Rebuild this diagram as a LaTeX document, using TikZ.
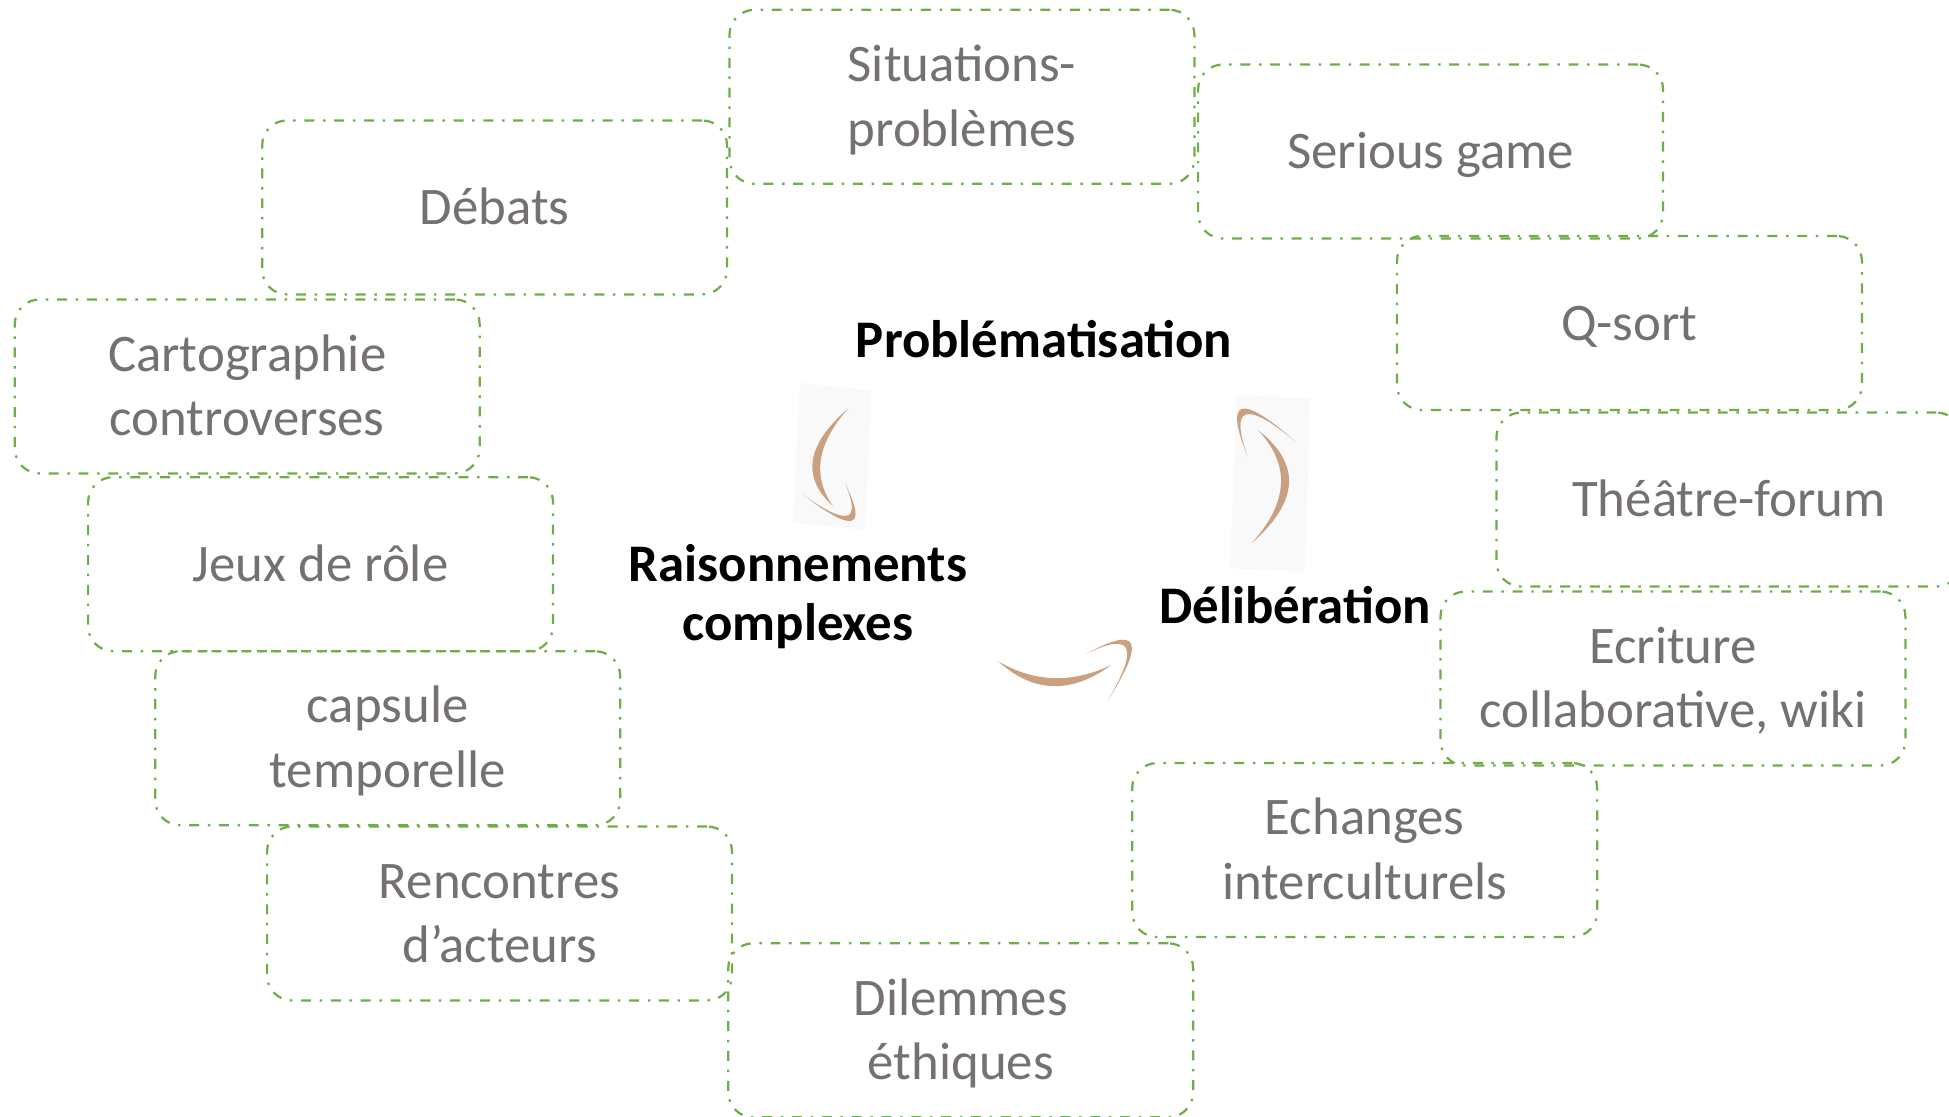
\documentclass[tikz,border=0pt]{standalone}
\usepackage{fontspec}
\setmainfont{Carlito}
\usetikzlibrary{calc}
\definecolor{boxgreen}{HTML}{70AD47}
\definecolor{txtgray}{HTML}{767171}
\definecolor{swoosh}{RGB}{201,161,128}
\definecolor{faintbg}{HTML}{F9F9F9}
% crescent: #1 start, #2 outer mid point, #3 end, #4 thickness
\newcommand{\mycrescent}[4]{%
  \path #1 -- #3 coordinate[pos=0.5] (cmid);
  \path #2 coordinate (cM);
  \coordinate (cMi) at ($(cM)!#4!(cmid)$);
  \fill[swoosh] #1 .. controls ($1.3333*#2-0.3333*#3$) and ($1.3333*#2-0.3333*#1$) .. #3
     .. controls ($1.3333*(cMi)-0.3333*#1$) and ($1.3333*(cMi)-0.3333*#3$) .. #1 -- cycle;
}
\begin{document}
\begin{tikzpicture}[x=1pt,y=-1pt,
  sbox/.style={draw=boxgreen, line width=1.8pt,
    dash pattern=on 8pt off 7pt on 2pt off 7pt,
    rounded corners=20pt, minimum width=374pt, minimum height=140pt,
    inner sep=0pt, anchor=north west, text=txtgray,
    font=\fontsize{42.5}{52}\selectfont, align=center,
    text height=27.4pt, text depth=0pt},
  sboxtwo/.style={sbox, text height=79.4pt},
  stage/.style={font=\fontsize{42.5}{47}\selectfont\bfseries, align=center,
    text height=27.4pt, text depth=0pt, inner sep=0pt},
  stagetwo/.style={stage, text height=74.4pt}]
\useasboundingbox (0,0) rectangle (1568,898.6);

% faint backgrounds of the swooshes
\fill[faintbg] (643.6,308) -- (701,313.8) -- (696,426.4) -- (638,420.8) -- cycle;
\fill[faintbg] (995,317.8) -- (1054,320.4) -- (1049.9,460) -- (989.5,457.2) -- cycle;

% boxes
\node[sboxtwo] (sit) at (586,7) {Situations-\\problèmes};
\node[sbox] (ser) at (963,51) {Serious game};
\node[sbox] (deb) at (210,96) {Débats};
\node[sbox] (qso) at (1123,189) {Q-sort};
\node[sboxtwo] (car) at (11,240) {Cartographie\\controverses};
\node[sbox] (the) at (1203,331) {Théâtre-forum};
\node[sbox] (jeu) at (70,383) {Jeux de rôle};
\node[sboxtwo] (ecr) at (1158,475) {Ecriture\\collaborative, wiki};
\node[sboxtwo] (cap) at (124,523) {capsule\\temporelle};
\node[sboxtwo] (ech) at (910,613) {Echanges\\interculturels};
\node[sboxtwo] (ren) at (214,664) {Rencontres\\d’acteurs};
\node[sboxtwo] (dil) at (585,758) {Dilemmes\\éthiques};

% stages
\node[stage] (prob) at (840,274) {Problématisation};
\node[stagetwo] (rais) at (642,478) {Raisonnements\\complexes};
\node[stage] (delib) at (1042,488) {Délibération};

% swoosh arrows
% left (down)
\mycrescent{(682.5,328.5)}{(654,370)}{(670,407)}{6.5pt}
\mycrescent{(646,398)}{(685,419)}{(680,389)}{5.5pt}
% right (up)
\mycrescent{(1012,346)}{(1037,389)}{(1007,437)}{6.5pt}
\mycrescent{(1004,368)}{(999,329)}{(1042,355)}{5.5pt}
% bottom (right)
\mycrescent{(803,532)}{(847,552)}{(894,535)}{6.5pt}
\mycrescent{(874,526)}{(910,518)}{(891,564)}{5.5pt}
\end{tikzpicture}
\end{document}
